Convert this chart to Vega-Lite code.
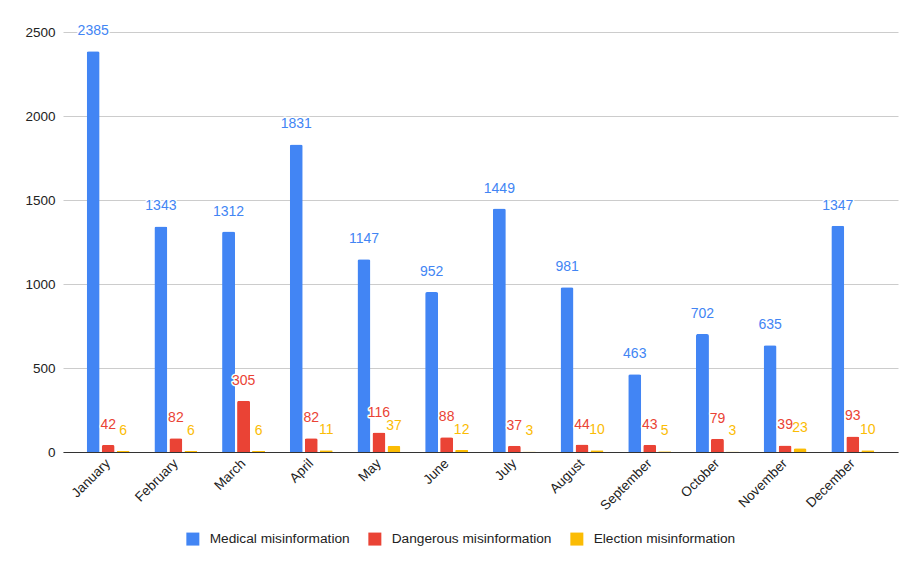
{
  "$schema": "https://vega.github.io/schema/vega-lite/v6.json",
  "width": 835,
  "height": 420,
  "autosize": {"type": "none"},
  "padding": {"left": 63, "top": 32, "right": 9, "bottom": 111},
  "background": "white",
  "config": {
    "font": "Arial, Liberation Sans, sans-serif",
    "view": {"stroke": null}
  },
  "data": {
    "values": [
      {"month": "January", "series": "Medical misinformation", "value": 2385},
      {"month": "February", "series": "Medical misinformation", "value": 1343},
      {"month": "March", "series": "Medical misinformation", "value": 1312},
      {"month": "April", "series": "Medical misinformation", "value": 1831},
      {"month": "May", "series": "Medical misinformation", "value": 1147},
      {"month": "June", "series": "Medical misinformation", "value": 952},
      {"month": "July", "series": "Medical misinformation", "value": 1449},
      {"month": "August", "series": "Medical misinformation", "value": 981},
      {"month": "September", "series": "Medical misinformation", "value": 463},
      {"month": "October", "series": "Medical misinformation", "value": 702},
      {"month": "November", "series": "Medical misinformation", "value": 635},
      {"month": "December", "series": "Medical misinformation", "value": 1347},
      {"month": "January", "series": "Dangerous misinformation", "value": 42},
      {"month": "February", "series": "Dangerous misinformation", "value": 82},
      {"month": "March", "series": "Dangerous misinformation", "value": 305},
      {"month": "April", "series": "Dangerous misinformation", "value": 82},
      {"month": "May", "series": "Dangerous misinformation", "value": 116},
      {"month": "June", "series": "Dangerous misinformation", "value": 88},
      {"month": "July", "series": "Dangerous misinformation", "value": 37},
      {"month": "August", "series": "Dangerous misinformation", "value": 44},
      {"month": "September", "series": "Dangerous misinformation", "value": 43},
      {"month": "October", "series": "Dangerous misinformation", "value": 79},
      {"month": "November", "series": "Dangerous misinformation", "value": 39},
      {"month": "December", "series": "Dangerous misinformation", "value": 93},
      {"month": "January", "series": "Election misinformation", "value": 6},
      {"month": "February", "series": "Election misinformation", "value": 6},
      {"month": "March", "series": "Election misinformation", "value": 6},
      {"month": "April", "series": "Election misinformation", "value": 11},
      {"month": "May", "series": "Election misinformation", "value": 37},
      {"month": "June", "series": "Election misinformation", "value": 12},
      {"month": "July", "series": "Election misinformation", "value": 3},
      {"month": "August", "series": "Election misinformation", "value": 10},
      {"month": "September", "series": "Election misinformation", "value": 5},
      {"month": "October", "series": "Election misinformation", "value": 3},
      {"month": "November", "series": "Election misinformation", "value": 23},
      {"month": "December", "series": "Election misinformation", "value": 10}
    ]
  },
  "encoding": {
    "x": {
      "field": "month",
      "type": "nominal",
      "sort": null,
      "scale": {"paddingInner": 0.365, "paddingOuter": 0.35},
      "axis": {
        "title": null,
        "labelAngle": -45,
        "labelAlign": "right",
        "labelBaseline": "middle",
        "labelFontSize": 13.5,
        "labelColor": "#222222",
        "labelPadding": 9,
        "labelDx": 3,
        "ticks": false,
        "domain": true,
        "domainColor": "#333333",
        "domainWidth": 1,
        "grid": false
      }
    },
    "xOffset": {
      "field": "series",
      "type": "nominal",
      "sort": ["Medical misinformation", "Dangerous misinformation", "Election misinformation"],
      "scale": {"paddingInner": 0.133, "paddingOuter": 0}
    },
    "y": {
      "field": "value",
      "type": "quantitative",
      "scale": {"domain": [0, 2500], "nice": false},
      "axis": {
        "title": null,
        "values": [0, 500, 1000, 1500, 2000, 2500],
        "format": "d",
        "labelFontSize": 13.5,
        "labelColor": "#222222",
        "labelPadding": 8,
        "ticks": false,
        "domain": false,
        "gridColor": "#cccccc",
        "gridWidth": 1
      }
    },
    "color": {
      "field": "series",
      "type": "nominal",
      "sort": ["Medical misinformation", "Dangerous misinformation", "Election misinformation"],
      "scale": {
        "domain": ["Medical misinformation", "Dangerous misinformation", "Election misinformation"],
        "range": ["#4285F4", "#EA4335", "#FBBC04"]
      },
      "legend": {
        "title": null,
        "orient": "none",
        "legendX": 123,
        "legendY": 500,
        "padding": 0,
        "direction": "horizontal",
        "symbolType": "square",
        "symbolSize": 169,
        "symbolStrokeWidth": 0,
        "symbolOpacity": 1,
        "labelFontSize": 13.7,
        "labelColor": "#222222",
        "labelOffset": 10,
        "columnPadding": 18
      }
    }
  },
  "layer": [
    {
      "mark": {"type": "bar", "cornerRadiusTopLeft": 2, "cornerRadiusTopRight": 2}
    },
    {
      "mark": {
        "type": "text",
        "baseline": "alphabetic",
        "dy": -16,
        "fontSize": 14,
        "stroke": "white",
        "strokeWidth": 3,
        "strokeJoin": "round"
      },
      "encoding": {
        "text": {"field": "value", "type": "quantitative"},
        "color": {"value": "white"}
      }
    },
    {
      "mark": {"type": "text", "baseline": "alphabetic", "dy": -16, "fontSize": 14},
      "encoding": {
        "text": {"field": "value", "type": "quantitative"}
      }
    }
  ]
}
